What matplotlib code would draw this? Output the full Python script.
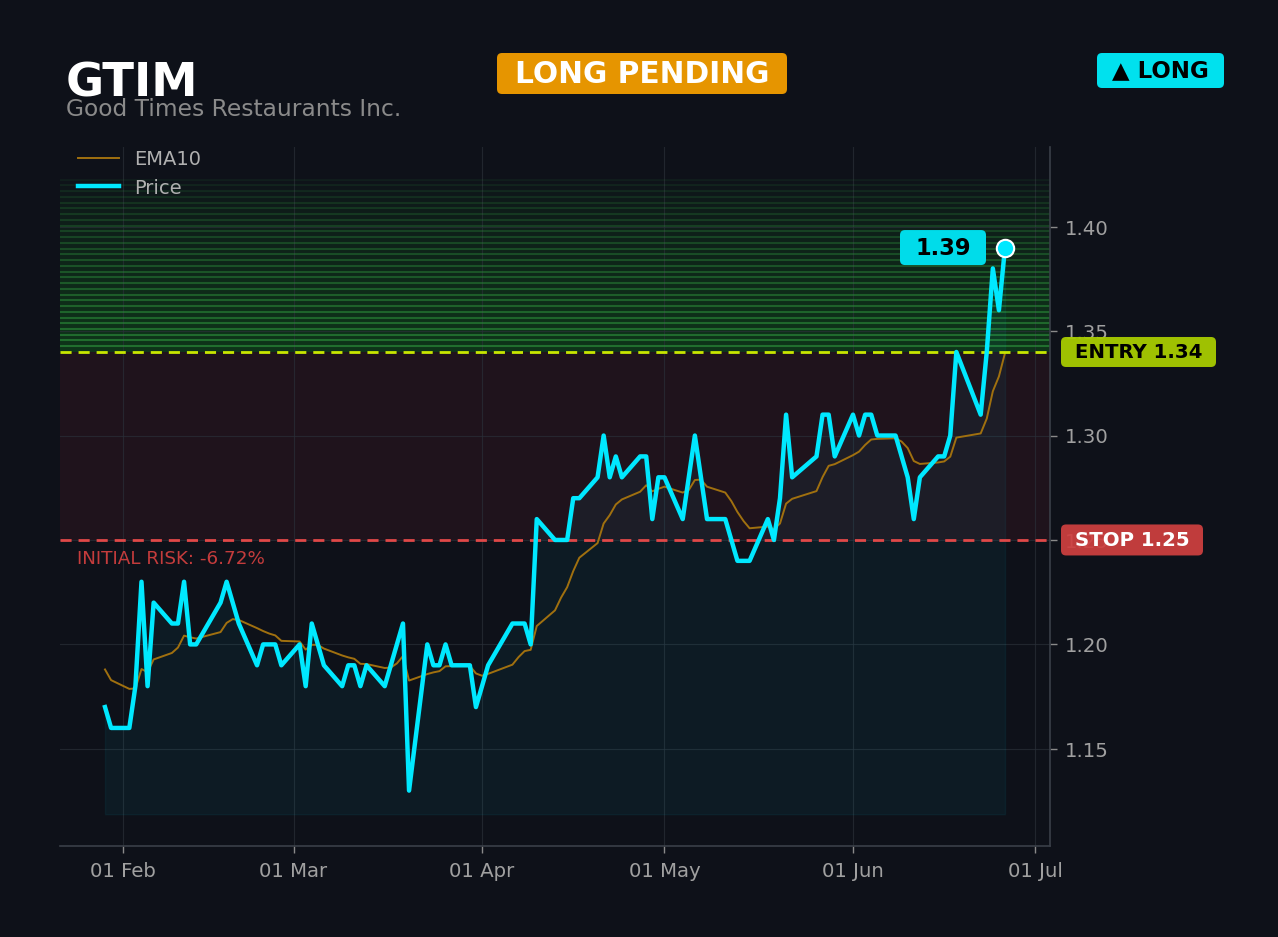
import matplotlib
matplotlib.use("Agg")
import matplotlib.pyplot as plt
import matplotlib.dates as mdates
import matplotlib.transforms as mtransforms
from matplotlib.patches import FancyBboxPatch
import pandas as pd

# ---------------- data ----------------
TICKER = "GTIM"
COMPANY = "Good Times Restaurants Inc."
START = "2026-01-29"
END = "2026-06-26"
HOLIDAYS = ["2026-02-16", "2026-04-03", "2026-05-25", "2026-06-19"]

price = [
    1.17, 1.16,
    1.16, 1.18, 1.23, 1.18, 1.22, 1.21, 1.21, 1.23, 1.20, 1.20, 1.22, 1.23, 1.22, 1.21, 1.19, 1.20, 1.20, 1.20, 1.19,
    1.20, 1.18, 1.21, 1.20, 1.19, 1.18, 1.19, 1.19, 1.18, 1.19, 1.18, 1.19, 1.20, 1.21, 1.13, 1.20, 1.19, 1.19, 1.20, 1.19, 1.19, 1.17,
    1.18, 1.19, 1.21, 1.21, 1.21, 1.20, 1.26, 1.25, 1.25, 1.25, 1.27, 1.27, 1.28, 1.30, 1.28, 1.29, 1.28, 1.29, 1.29, 1.26, 1.28,
    1.28, 1.26, 1.28, 1.30, 1.28, 1.26, 1.26, 1.25, 1.24, 1.24, 1.24, 1.26, 1.25, 1.27, 1.31, 1.28, 1.29, 1.31, 1.31, 1.29,
    1.31, 1.30, 1.31, 1.31, 1.30, 1.30, 1.29, 1.28, 1.26, 1.28, 1.29, 1.29, 1.30, 1.34, 1.31, 1.34, 1.38, 1.36, 1.39,
]
ema10 = [
    1.1880, 1.1829,
    1.1787, 1.1789, 1.1882, 1.1867, 1.1928, 1.1959, 1.1985, 1.2042, 1.2034, 1.2028, 1.2059, 1.2103, 1.2121, 1.2117, 1.2078, 1.2064, 1.2052, 1.2043, 1.2017,
    1.2014, 1.1975, 1.1998, 1.1998, 1.1980, 1.1947, 1.1938, 1.1931, 1.1907, 1.1906, 1.1887, 1.1889, 1.1909, 1.1944, 1.1827, 1.1858, 1.1866, 1.1872, 1.1895, 1.1896, 1.1897, 1.1861,
    1.1850, 1.1859, 1.1903, 1.1939, 1.1968, 1.1974, 1.2088, 1.2163, 1.2224, 1.2274, 1.2351, 1.2415, 1.2485, 1.2579, 1.2619, 1.2670, 1.2694, 1.2731, 1.2762, 1.2733, 1.2745,
    1.2755, 1.2727, 1.2739, 1.2787, 1.2789, 1.2755, 1.2727, 1.2686, 1.2634, 1.2591, 1.2556, 1.2564, 1.2552, 1.2579, 1.2674, 1.2697, 1.2734, 1.2801, 1.2855, 1.2863,
    1.2906, 1.2923, 1.2955, 1.2981, 1.2984, 1.2987, 1.2971, 1.2940, 1.2878, 1.2864, 1.2871, 1.2876, 1.2899, 1.2990, 1.3010, 1.3081, 1.3212, 1.3283, 1.3395,
]
ENTRY = 1.34
STOP = 1.25
TARGET_TOP = 1.4225
RISK_TEXT = "INITIAL RISK: -6.72%"
STATUS = "LONG PENDING"
SIDE = "▲ LONG"
YTICKS = [1.15, 1.20, 1.25, 1.30, 1.35, 1.40]
YLIM = (1.1035, 1.4383)

dates = pd.bdate_range(START, END, freq="C", holidays=HOLIDAYS)

# ---------------- style ----------------
W, H = 1278, 937
BG = "#0e1119"
CYAN = "#00e8ff"
EMA_C = "#a0700f"
ENTRY_C = "#c8e600"
STOP_C = "#e04848"
GREEN = "#2f9a3e"
GRID_C = "#2a2f38"
TICK_C = "#a0a0a0"

fig = plt.figure(figsize=(W / 100, (H + 0.4) / 100), dpi=100, facecolor=BG)
ax = fig.add_axes([60 / W, 1 - 846 / H, 990 / W, (846 - 147) / H])
ax.set_facecolor(BG)

base = min(price) * 0.99

# green target zone (stacked bands)
n_bands = 30
hb = (TARGET_TOP - ENTRY) / n_bands
for i in range(n_bands):
    ax.axhspan(ENTRY, ENTRY + (i + 1) * hb, facecolor=GREEN, alpha=0.014, lw=0, zorder=0.5)
    a = 0.55 * (1 - i / n_bands) ** 0.7 + 0.03
    ax.axhline(ENTRY + (i + 1) * hb, color=GREEN, alpha=a, lw=1.5, zorder=0.6)

# red risk zone
ax.axhspan(STOP, ENTRY, facecolor="#ff3344", alpha=0.075, lw=0, zorder=0.5)

# fill under price
ax.fill_between(dates, price, base, color=CYAN, alpha=0.05, lw=1, zorder=1)

ax.grid(True, color=GRID_C, lw=0.8, alpha=0.7, zorder=0.2)
ax.set_axisbelow(True)

ax.plot(dates, ema10, color=EMA_C, lw=1.4, zorder=3, label="EMA10")
ax.plot(dates, price, color=CYAN, lw=3.2, zorder=4, label="Price")

ax.axhline(ENTRY, color=ENTRY_C, lw=2, ls=(0, (4, 2.5)), zorder=3.5)
ax.axhline(STOP, color=STOP_C, lw=2, ls=(0, (4, 2.5)), zorder=3.5)

ax.plot([dates[-1]], [price[-1]], "o", ms=12.5, mfc=CYAN, mec="white", mew=1.5, zorder=6)

ax.set_ylim(*YLIM)
ax.set_yticks(YTICKS)
ax.yaxis.set_major_formatter(matplotlib.ticker.FormatStrFormatter("%.2f"))
ax.yaxis.tick_right()
ax.xaxis.set_major_locator(mdates.MonthLocator())
ax.xaxis.set_major_formatter(mdates.DateFormatter("%d %b"))
ax.tick_params(labelsize=14.2, length=5, width=1, pad=6, colors="#8a8a8a", labelcolor=TICK_C)
for s in ["top", "left"]:
    ax.spines[s].set_visible(False)
for s in ["bottom", "right"]:
    ax.spines[s].set_color("#3a3f48")
    ax.spines[s].set_linewidth(1.2)

leg = ax.legend(loc="upper left", bbox_to_anchor=(0.010, 1.007), borderaxespad=0,
                frameon=False, fontsize=14, labelcolor="#b0b0b0", handlelength=2.15,
                handletextpad=0.75)

ax.text(17 / 990, STOP - 0.0088, RISK_TEXT,
        transform=mtransforms.blended_transform_factory(ax.transAxes, ax.transData),
        color="#c43c3c", fontsize=13.2, va="center", ha="left", zorder=5)

# ---------------- badges ----------------
ident = mtransforms.IdentityTransform()


def badge(xc, yc, w, h, text, fc, tc, fs, alpha=1.0):
    p = FancyBboxPatch((xc - w / 2, yc - h / 2), w, h,
                       boxstyle="round,pad=0,rounding_size=5",
                       transform=ident, fc=fc, ec="none", alpha=alpha, zorder=20)
    fig.add_artist(p)
    fig.text(xc / W, (yc + 2) / H, text, ha="center", va="center_baseline", color=tc,
             fontsize=fs, fontweight="bold", zorder=21)


fig.canvas.draw()
entry_y = ax.transData.transform((0, ENTRY))[1]
stop_y = ax.transData.transform((0, STOP))[1]
lx, ly = ax.transData.transform((mdates.date2num(dates[-1]), price[-1]))

badge(642, H - 73.5, 290, 41, STATUS, "#e69500", "white", 21.3)
badge(1160.5, H - 70.5, 127, 35, SIDE, "#00e1ee", "black", 16.5)
badge(1138.5, entry_y, 155, 30, f"ENTRY {ENTRY:.2f}", "#a8cc00", "black", 14.2, alpha=0.95)
badge(1132, stop_y, 142, 31, f"STOP {STOP:.2f}", "#d04040", "white", 14.2, alpha=0.92)
badge(lx - 62, ly, 86, 35, f"{price[-1]:.2f}", "#00dcea", "black", 16.3)

fig.text(66 / W, 1 - 96 / H, TICKER, color="white", fontsize=33.5, fontweight="bold", va="baseline", ha="left")
fig.text(66 / W, 1 - 116 / H, COMPANY, color="#8a8a8a", fontsize=16.8, va="baseline", ha="left")

fig.savefig("out.png", dpi=100, facecolor=BG)
